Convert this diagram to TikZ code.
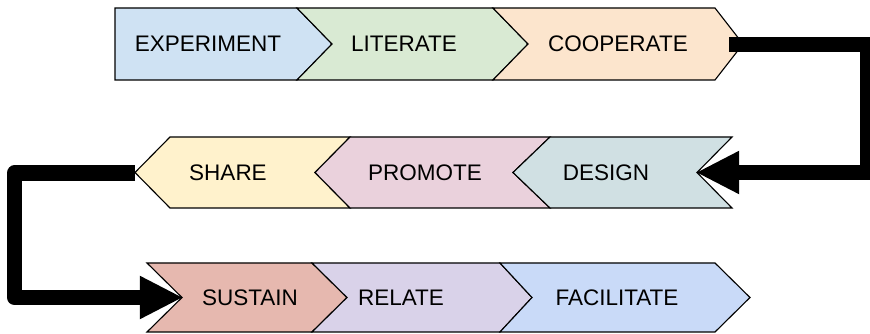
\documentclass[tikz,border=0pt]{standalone}
\usepackage{fontspec}
\setmainfont{Liberation Sans}
\usetikzlibrary{arrows.meta}

\definecolor{cexp}{HTML}{CFE2F3}
\definecolor{clit}{HTML}{D9EAD3}
\definecolor{ccoop}{HTML}{FCE5CD}
\definecolor{cshare}{HTML}{FFF2CC}
\definecolor{cprom}{HTML}{EAD1DC}
\definecolor{cdes}{HTML}{D0E0E3}
\definecolor{csust}{HTML}{E6B8AF}
\definecolor{crel}{HTML}{D9D2E9}
\definecolor{cfac}{HTML}{C9DAF8}

\begin{document}
\begin{tikzpicture}[x=0.025cm, y=-0.025cm,
    chev/.style={draw=black, line width=0.8pt, line join=miter},
    lbl/.style={font=\fontsize{16}{19}\selectfont, inner sep=0pt},
    flow/.style={draw=black, line width=10.7pt,
        -{Triangle[length=30pt, width=31pt, line width=0pt]}}]

    \useasboundingbox (0,0) rectangle (870,334);

    % first row, pointing right
    \filldraw [chev, fill=cexp]  (115,8) -- (297,8) -- (332,44) -- (297,80) -- (115,80) -- cycle;
    \filldraw [chev, fill=clit]  (297,8) -- (493,8) -- (528,44) -- (493,80) -- (297,80) -- (332,44) -- cycle;
    \filldraw [chev, fill=ccoop] (493,8) -- (715,8) -- (743,44) -- (715,80) -- (493,80) -- (528,44) -- cycle;

    % second row, pointing left
    \filldraw [chev, fill=cshare] (135,172.5) -- (170,137) -- (350,137) -- (315,172.5) -- (350,208) -- (170,208) -- cycle;
    \filldraw [chev, fill=cprom]  (315,172.5) -- (350,137) -- (550,137) -- (513,172.5) -- (550,208) -- (350,208) -- cycle;
    \filldraw [chev, fill=cdes]   (513,172.5) -- (550,137) -- (732,137) -- (697,172.5) -- (732,208) -- (550,208) -- cycle;

    % third row, pointing right
    \filldraw [chev, fill=csust] (147,263) -- (312,263) -- (347,297.5) -- (312,332) -- (147,332) -- (182,297.5) -- cycle;
    \filldraw [chev, fill=crel]  (312,263) -- (500,263) -- (532,297.5) -- (500,332) -- (312,332) -- (347,297.5) -- cycle;
    \filldraw [chev, fill=cfac]  (500,263) -- (715,263) -- (750,297.5) -- (715,332) -- (500,332) -- (532,297.5) -- cycle;

    \node [lbl] (experiment) at (208,44) {EXPERIMENT};
    \node [lbl] (literate)   at (404,44) {LITERATE};
    \node [lbl] (cooperate)  at (618,44) {COOPERATE};
    \node [lbl] (share)      at (228,172.5) {SHARE};
    \node [lbl] (promote)    at (425,172.5) {PROMOTE};
    \node [lbl] (design)     at (606,172.5) {DESIGN};
    \node [lbl] (sustain)    at (250,297.5) {SUSTAIN};
    \node [lbl] (relate)     at (401,297.5) {RELATE};
    \node [lbl] (facilitate) at (617,297.5) {FACILITATE};

    \coordinate (coopout)   at (729,44.5);
    \coordinate (rightturn) at (868,44.5);
    \coordinate (designin)  at (697,172.5);
    \coordinate (shareout)  at (135,173);
    \coordinate (leftturn)  at (14.5,173);
    \coordinate (sustainin) at (182,297.5);

    \draw [flow, line join=miter] (coopout) -- (rightturn) |- (designin);
    \draw [flow, line join=round] (shareout) -- (leftturn) |- (sustainin);

\end{tikzpicture}
\end{document}
